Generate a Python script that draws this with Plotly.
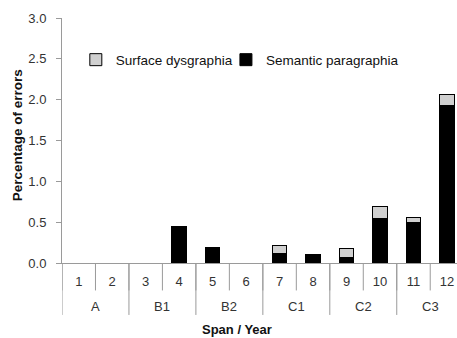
import plotly.graph_objects as go

spans = ["A", "A", "B1", "B1", "B2", "B2", "C1", "C1", "C2", "C2", "C3", "C3"]
years = ["1", "2", "3", "4", "5", "6", "7", "8", "9", "10", "11", "12"]
semantic = [None, None, None, 0.45, 0.19, None, 0.12, 0.10, 0.07, 0.55, 0.49, 1.93]
surface = [None, None, None, None, None, None, 0.09, None, 0.11, 0.14, 0.07, 0.13]

FONT = "Liberation Sans, Arial, sans-serif"
AX = "#9a9a9a"

fig = go.Figure()
fig.add_trace(go.Bar(
    x=years, y=semantic, name="Semantic paragraphia",
    marker=dict(color="#000000", line=dict(color="#000000", width=1)),
    width=0.43, legend="legend2",
))
fig.add_trace(go.Bar(
    x=years, y=surface, name="Surface dysgraphia",
    marker=dict(color="#d0d0d0", line=dict(color="#000000", width=1)),
    width=0.43, legend="legend",
))

shapes = []
annotations = []
# inner-level boundary ticks (between years)
for i in range(len(years)):
    shapes.append(dict(type="line", xref="x", yref="paper",
                       x0=i - 0.5, x1=i - 0.5, y0=0, y1=-0.112,
                       line=dict(color=AX, width=1)))
# outer level (spans): dividers and centred labels derived from data
groups = []
for i, s in enumerate(spans):
    if not groups or groups[-1][0] != s:
        groups.append([s, i, i])
    else:
        groups[-1][2] = i
for name, i0, i1 in groups:
    shapes.append(dict(type="line", xref="x", yref="paper",
                       x0=i0 - 0.5, x1=i0 - 0.5, y0=0, y1=-0.212,
                       line=dict(color=AX, width=1)))
    annotations.append(dict(x=(i0 + i1) / 2, xref="x", y=-0.176, yref="paper",
                            text=name, showarrow=False, yanchor="middle",
                            font=dict(size=13, color="#333333")))
annotations.append(dict(x=0.443, xref="paper", y=-0.272, yref="paper",
                        text="<b>Span / Year</b>", showarrow=False, yanchor="middle",
                        font=dict(size=13, color="#111111")))
annotations.append(dict(x=-0.112, xref="paper", y=0.52, yref="paper",
                        text="<b>Percentage of errors</b>", showarrow=False,
                        textangle=-90, xanchor="center", yanchor="middle",
                        font=dict(size=13.5, color="#111111")))

leg_common = dict(orientation="h", y=0.829, xanchor="left", yanchor="middle",
                  bgcolor="rgba(0,0,0,0)", font=dict(size=13.5, color="#111111"),
                  itemwidth=30)

fig.update_layout(
    barmode="stack",
    width=457, height=338,
    margin=dict(l=62, r=0, t=18, b=75),
    paper_bgcolor="white", plot_bgcolor="white",
    font=dict(family=FONT, size=12, color="#222222"),
    showlegend=True,
    legend=dict(x=0.035, **leg_common),
    legend2=dict(x=0.415, **leg_common),
    shapes=shapes,
    annotations=annotations,
)
fig.update_xaxes(
    type="category", range=[-0.5, 11.3],
    showline=True, linecolor=AX, linewidth=1,
    ticks="", ticklabelstandoff=6,
    showgrid=False, zeroline=False,
    tickfont=dict(size=13, color="#333333"),
)
fig.update_yaxes(
    range=[0, 3], dtick=0.5, tickformat=".1f",
    showline=True, linecolor=AX, linewidth=1,
    ticks="outside", ticklen=5, tickcolor=AX,
    ticklabelstandoff=7,
    showgrid=False, zeroline=False,
    tickfont=dict(size=13, color="#333333"),
)

fig.write_html("out.html")
